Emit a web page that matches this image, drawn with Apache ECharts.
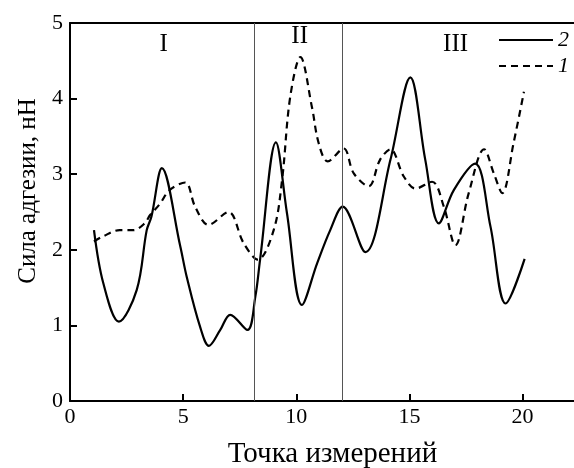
<!DOCTYPE html>
<html>
<head>
<meta charset="utf-8">
<script src="https://cdn.jsdelivr.net/npm/echarts@6/dist/echarts.min.js"></script>
<style>
html,body{margin:0;padding:0;background:#fff;}
#chart{width:574px;height:468px;}
</style>
</head>
<body>
<div id="chart"></div>
<script>
// Curve "2" (solid)
var curve2X = [1.06, 1.47, 2.16, 2.95, 3.39, 3.6, 4.06, 4.87, 5.16, 5.75, 6.14, 6.64, 7.08, 7.84, 8.19, 8.4, 9.1, 9.59, 10.25, 10.92, 11.5, 12.05, 13.05, 14.16, 15.04, 15.7, 16.3, 16.96, 17.9, 18.58, 19.25, 20.09];
var curve2Y = [2.26, 1.56, 1.05, 1.47, 2.26, 2.44, 3.08, 2.05, 1.64, 0.98, 0.73, 0.94, 1.14, 0.94, 1.38, 1.87, 3.42, 2.48, 1.27, 1.82, 2.26, 2.57, 1.97, 3.19, 4.28, 3.19, 2.35, 2.79, 3.14, 2.31, 1.29, 1.88];
// Curve "1" (dashed)
var curve1X = [1.06, 1.47, 2.2, 2.8, 3.3, 3.54, 3.98, 4.4, 5.09, 5.53, 6.12, 7.0, 7.67, 8.3, 9.0, 9.37, 9.73, 10.18, 10.69, 10.99, 11.39, 12.09, 12.54, 13.2, 13.7, 14.16, 14.75, 15.27, 16.0, 16.52, 17.03, 17.62, 18.3, 18.73, 19.1, 19.6, 20.06];
var curve1Y = [2.11, 2.18, 2.26, 2.26, 2.35, 2.46, 2.61, 2.79, 2.89, 2.57, 2.33, 2.5, 2.09, 1.87, 2.26, 2.92, 4.02, 4.55, 3.89, 3.41, 3.17, 3.34, 3.01, 2.84, 3.19, 3.33, 2.97, 2.81, 2.9, 2.57, 2.06, 2.75, 3.33, 3.01, 2.75, 3.41, 4.09];
var seriesNames = ['2', '1'];
var zoneBounds = [8.15, 12.05];
var zoneLabels = ['I', 'II', 'III'];
var zoneLabelX = [4.14, 10.15, 17.04];
var zoneLabelY = [4.71, 4.82, 4.71];
var xTicks = [0, 5, 10, 15, 20];
var yTicks = [0, 1, 2, 3, 4, 5];
var xName = 'Точка измерений';
var yName = 'Сила адгезии, нН';

function pairs(xs, ys) { return xs.map(function (x, i) { return [x, ys[i]]; }); }

var serif = '"Liberation Serif", "DejaVu Serif", serif';
var chart = echarts.init(document.getElementById('chart'), null, {renderer: 'canvas'});
var axisLineStyle = {color: '#000', width: 2};

chart.setOption({
  animation: false,
  backgroundColor: '#fff',
  grid: {left: 70, top: 23, width: 525, height: 378, outerBoundsMode: 'none', containLabel: false},
  legend: {
    data: seriesNames,
    orient: 'vertical',
    left: 493,
    top: 24,
    itemWidth: 54,
    itemHeight: 14,
    itemGap: 4,
    selectedMode: false,
    itemStyle: {color: 'rgba(0,0,0,0)', borderWidth: 0, opacity: 0},
    textStyle: {fontFamily: serif, fontStyle: 'italic', fontSize: 22, color: '#000'}
  },
  xAxis: [{
    type: 'value', min: 0, max: 23.2, interval: 5,
    name: xName, nameLocation: 'middle', nameGap: 39,
    nameTextStyle: {fontFamily: serif, fontSize: 29, color: '#000'},
    axisLine: {show: true, onZero: false, lineStyle: axisLineStyle},
    axisTick: {show: true, inside: true, length: 7, lineStyle: axisLineStyle},
    axisLabel: {fontFamily: serif, fontSize: 22, color: '#000', margin: 5,
      formatter: function (v) { return xTicks.indexOf(v) >= 0 ? String(v) : ''; }},
    splitLine: {show: false}
  }, {
    type: 'value', min: 0, max: 23.2, position: 'top',
    axisLine: {show: true, onZero: false, lineStyle: axisLineStyle},
    axisTick: {show: false}, axisLabel: {show: false}, splitLine: {show: false}
  }],
  yAxis: {
    type: 'value', min: 0, max: 5, interval: 1,
    name: yName, nameLocation: 'middle', nameGap: 23,
    nameTextStyle: {fontFamily: serif, fontSize: 25, color: '#000', padding: [0, 0, 0, 42]},
    axisLine: {show: true, onZero: false, lineStyle: axisLineStyle},
    axisTick: {show: true, inside: true, length: 7, lineStyle: axisLineStyle},
    axisLabel: {fontFamily: serif, fontSize: 22, color: '#000', margin: 7,
      formatter: function (v) { return yTicks.indexOf(v) >= 0 ? String(v) : ''; }},
    splitLine: {show: false}
  },
  series: [{
    name: seriesNames[0],
    type: 'line',
    data: pairs(curve2X, curve2Y),
    smooth: 0.35,
    symbol: 'none',
    lineStyle: {color: '#000', width: 2.2, type: 'solid'},
    itemStyle: {color: '#000'},
    z: 3,
    markLine: {
      silent: true, symbol: 'none', label: {show: false},
      lineStyle: {color: '#555', width: 1, type: 'solid'},
      data: zoneBounds.map(function (b) { return {xAxis: b}; })
    }
  }, {
    name: seriesNames[1],
    type: 'line',
    data: pairs(curve1X, curve1Y),
    smooth: 0.35,
    symbol: 'none',
    lineStyle: {color: '#000', width: 2.2, type: [7, 5]},
    itemStyle: {color: '#000'},
    z: 2
  }]
});

// Zone labels placed at data coordinates through the chart's own scales
var zoneGraphics = zoneLabels.map(function (t, i) {
  var p = chart.convertToPixel({xAxisIndex: 0, yAxisIndex: 0}, [zoneLabelX[i], zoneLabelY[i]]);
  return {
    type: 'text', x: p[0], y: p[1], z: 10, silent: true,
    style: {text: t, fill: '#000', font: '25px ' + serif, align: 'center', verticalAlign: 'middle'}
  };
});
chart.setOption({graphic: zoneGraphics});
</script>
</body>
</html>
